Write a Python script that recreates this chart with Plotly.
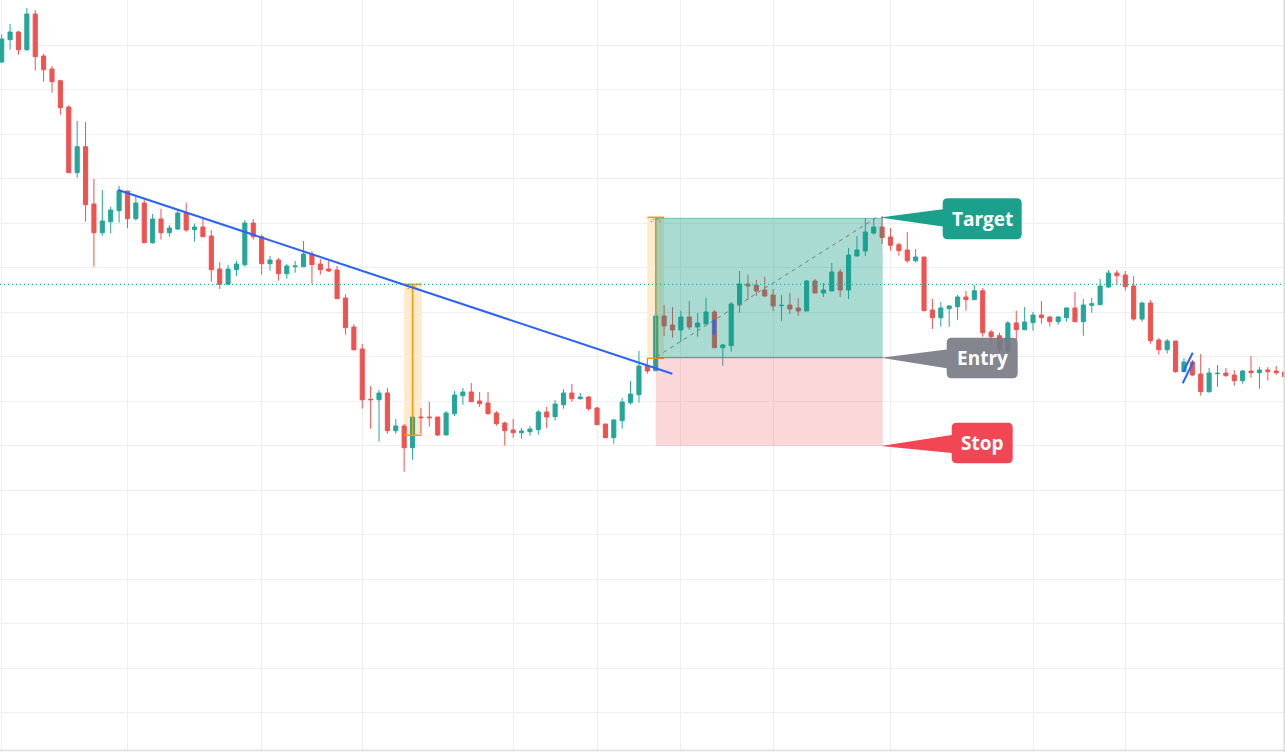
import plotly.graph_objects as go

# ---------------- data (price units) ----------------
open_ = [73.8, 76.03, 76.8, 75.03, 78.6, 74.4, 73.1, 71.93, 69.3, 62.73,
         65.33, 59.6, 56.73, 57.83, 58.93, 60.9, 58.13, 59.7, 55.73, 58.1,
         56.73, 57.1, 58.7, 57.03, 57.3, 56.4, 53.1, 51.57, 53.03, 53.53,
         57.7, 56.33, 53.63, 54.0, 52.63, 53.33, 53.33, 54.6, 53.6, 53.1,
         53.0, 50.2, 47.3, 45.1, 40.07, 40.03, 40.7, 36.93, 37.4, 35.23,
         38.3, 38.3, 38.3, 36.5, 38.63, 40.43, 40.8, 39.9, 39.7, 38.7,
         37.7, 37.0, 36.73, 36.83, 37.03, 38.8, 38.33, 39.53, 40.7, 40.13,
         40.3, 39.2, 37.6, 36.23, 37.93, 39.73, 40.53, 43.4, 42.93, 48.4,
         47.5, 47.0, 48.3, 47.3, 47.6, 48.8, 45.23, 45.43, 49.53, 51.6,
         51.5, 51.0, 50.5, 49.43, 49.5, 49.2, 48.9, 51.9, 50.7, 50.9,
         52.8, 51.0, 54.4, 54.9, 56.7, 57.3, 56.3, 55.53, 55.0, 53.93,
         54.3, 49.0, 48.23, 49.13, 49.33, 50.3, 50.03, 50.93, 46.8, 46.43,
         44.9, 47.7, 47.03, 47.73, 48.5, 48.3, 47.83, 48.23, 49.2, 47.83,
         49.47, 49.53, 51.3, 52.7, 52.5, 51.4, 48.1, 49.7, 46.0, 45.03,
         45.9, 42.83, 43.8, 42.6, 40.83, 42.63, 42.7, 42.5, 41.93, 42.9,
         42.73, 43.0, 42.9, 42.8]
high = [76.57, 77.6, 76.9, 79.2, 79.0, 74.63, 73.4, 72.03, 69.47, 67.9,
        67.8, 62.1, 61.0, 59.33, 61.43, 60.9, 60.33, 60.07, 58.6, 59.13,
        57.5, 59.0, 59.73, 57.63, 58.13, 57.0, 53.8, 53.5, 53.9, 58.0,
        58.1, 56.53, 54.4, 54.2, 53.6, 53.9, 55.9, 54.9, 54.1, 53.93,
        53.4, 50.57, 47.6, 45.6, 41.4, 41.0, 41.2, 38.1, 37.6, 38.3,
        39.2, 39.8, 38.3, 38.9, 40.9, 41.2, 41.7, 40.8, 40.8, 38.9,
        37.83, 38.1, 37.2, 37.4, 39.0, 39.3, 40.0, 41.1, 41.6, 40.7,
        40.4, 39.3, 37.6, 38.1, 40.2, 41.9, 44.9, 44.2, 48.8, 49.5,
        49.3, 48.9, 49.9, 48.7, 50.2, 49.0, 45.6, 49.8, 52.9, 52.5,
        52.0, 52.3, 51.1, 50.5, 50.7, 50.2, 52.0, 52.1, 51.7, 53.7,
        53.1, 55.2, 56.4, 58.2, 58.2, 58.4, 57.2, 55.73, 56.8, 55.1,
        54.3, 50.1, 49.8, 49.5, 50.5, 50.9, 51.5, 51.2, 47.0, 46.73,
        47.9, 48.93, 49.3, 48.8, 49.9, 48.4, 48.4, 49.3, 50.8, 50.1,
        50.2, 52.1, 53.0, 53.0, 52.9, 52.4, 49.83, 50.0, 46.2, 46.1,
        45.9, 44.2, 44.0, 44.6, 43.2, 43.5, 43.2, 43.0, 43.0, 44.4,
        43.3, 43.3, 43.4, 42.9]
low = [73.73, 75.03, 74.53, 74.9, 72.93, 71.83, 70.73, 68.53, 62.73, 62.23,
       57.83, 53.33, 56.43, 56.67, 57.73, 57.2, 57.93, 55.73, 55.63, 56.03,
       56.33, 57.0, 56.83, 55.83, 56.33, 51.83, 51.1, 51.57, 52.4, 53.33,
       56.03, 52.53, 52.93, 51.93, 52.13, 52.73, 53.33, 51.63, 52.53, 52.8,
       50.13, 46.53, 44.93, 39.13, 37.13, 35.83, 36.63, 36.63, 32.83, 34.03,
       36.63, 37.33, 36.4, 36.5, 38.4, 39.53, 39.83, 39.3, 38.53, 37.43,
       35.43, 36.23, 36.13, 36.43, 36.53, 37.2, 37.93, 39.13, 39.83, 40.03,
       38.93, 37.53, 36.23, 35.63, 37.13, 39.53, 39.73, 42.63, 42.93, 46.4,
       46.23, 45.8, 47.0, 46.33, 47.6, 45.23, 43.43, 44.83, 48.73, 50.0,
       50.4, 50.3, 48.9, 47.9, 48.6, 48.4, 48.9, 50.7, 50.3, 50.9,
       50.3, 50.1, 54.4, 54.4, 56.53, 55.6, 54.93, 54.43, 53.73, 53.73,
       48.93, 47.1, 47.33, 47.33, 48.03, 48.93, 50.03, 46.33, 45.5, 44.8,
       44.7, 46.03, 47.03, 46.93, 47.63, 47.33, 47.53, 47.83, 47.83, 46.43,
       48.73, 49.53, 51.2, 51.5, 50.93, 47.93, 47.83, 45.63, 44.53, 44.63,
       42.73, 42.83, 42.4, 40.43, 40.73, 41.33, 42.33, 41.43, 41.63, 42.23,
       41.13, 41.93, 42.5, 42.23]
close = [76.1, 76.8, 75.03, 78.6, 74.33, 73.03, 71.83, 69.23, 62.73, 65.33,
         59.53, 56.73, 57.9, 59.0, 60.93, 58.13, 59.7, 55.73, 58.1, 56.73,
         57.2, 58.7, 57.0, 57.3, 56.33, 53.03, 51.57, 53.1, 53.6, 57.7,
         56.33, 53.63, 54.0, 52.63, 53.4, 53.4, 54.6, 53.53, 53.03, 52.9,
         50.13, 47.23, 45.03, 40.03, 40.03, 40.7, 36.93, 37.4, 35.23, 38.3,
         38.23, 38.23, 36.5, 38.7, 40.5, 40.8, 39.83, 39.63, 38.63, 37.63,
         36.93, 36.73, 36.9, 37.1, 38.8, 38.3, 39.6, 40.7, 40.13, 40.3,
         39.13, 37.53, 36.23, 38.0, 39.8, 40.6, 43.4, 42.9, 48.4, 47.4,
         47.0, 48.3, 47.3, 47.7, 48.8, 45.23, 45.5, 49.6, 51.6, 51.4,
         50.9, 50.4, 49.4, 49.47, 49.1, 48.9, 51.9, 50.7, 51.0, 52.8,
         51.0, 54.5, 55.0, 56.8, 57.3, 56.25, 55.47, 54.93, 53.93, 54.3,
         48.93, 48.23, 49.2, 49.4, 50.3, 50.03, 50.93, 46.73, 46.33, 45.0,
         47.7, 47.03, 47.8, 48.5, 48.23, 47.83, 48.3, 49.2, 47.83, 49.5,
         49.63, 51.4, 52.7, 52.43, 51.33, 48.1, 49.7, 45.93, 45.03, 45.9,
         42.83, 43.8, 42.5, 40.83, 42.7, 42.67, 42.43, 41.93, 42.9, 42.73,
         43.0, 42.83, 42.73, 42.33]
bar_index = list(range(len(open_)))

# session boundaries (vertical grid)
session_starts = [0, 15, 31, 43, 61, 71, 81, 92, 106, 123, 134]

# drawings
trend_x = [13.9, 79.98]
trend_y = [61.0, 42.63]
price_line = 51.57
range1 = dict(x0=48.0, x1=50.1, mid=49.0, top=51.57, bottom=36.47)
range2 = dict(x0=77.0, x1=79.0, mid=78.0, top=58.27, bottom=44.17)
pos_x0, pos_x1 = 78.0, 105.07
target_level = 58.17
entry_level = 44.23
stop_level = 35.4
dash_x = [78.1, 104.5]
dash_y = [44.33, 58.33]
mark1_x = [84.95, 84.95]
mark1_y = [48.0, 46.5]
mark2a_x = [140.92, 142.04]
mark2a_y = [42.83, 44.73]
mark2b_x = [140.85, 142.11]
mark2b_y = [41.67, 43.83]

# ---------------- layout helpers ----------------
W, H = 1285, 752
X0, X1 = -0.2027, 153.05
Y0, Y1 = 4.8, 80.0
XU = W / (X1 - X0)   # px per bar
YU = H / (Y1 - Y0)   # px per price unit

GREEN = "#26A69A"
RED = "#EF5350"
BLUE = "#2962FF"
ORANGE = "#FF9800"

fig = go.Figure()
fig.add_trace(go.Candlestick(
    x=bar_index, open=open_, high=high, low=low, close=close,
    increasing=dict(line=dict(color=GREEN, width=1), fillcolor=GREEN),
    decreasing=dict(line=dict(color=RED, width=1), fillcolor=RED),
    showlegend=False, hoverinfo="skip",
))

shapes = []

def line(x0, y0, x1, y1, color, width=1, dash=None, layer="above"):
    d = dict(type="line", xref="x", yref="y", x0=x0, y0=y0, x1=x1, y1=y1,
             line=dict(color=color, width=width), layer=layer)
    if dash:
        d["line"]["dash"] = dash
    shapes.append(d)

def rect(x0, y0, x1, y1, fill, layer="above"):
    shapes.append(dict(type="rect", xref="x", yref="y", x0=x0, y0=y0, x1=x1, y1=y1,
                       fillcolor=fill, line=dict(width=0), layer=layer))

# price ranges (orange)
for r in (range1, range2):
    rect(r["x0"], r["bottom"], r["x1"], r["top"], "rgba(255,152,0,0.2)", layer="below")
for r in (range1, range2):
    line(r["mid"], r["bottom"], r["mid"], r["top"], ORANGE, 1.5)
    line(r["x0"], r["top"], r["x1"], r["top"], ORANGE, 1.5)
    line(r["x0"], r["bottom"], r["x1"], r["bottom"], ORANGE, 1.5)
    ax = 5 / XU
    ay = 5 / YU
    line(r["mid"] - ax, r["top"] - ay, r["mid"], r["top"], ORANGE, 1.2, dash="2px,1px")
    line(r["mid"] + ax, r["top"] - ay, r["mid"], r["top"], ORANGE, 1.2, dash="2px,1px")

# long position zones
rect(pos_x0, entry_level, pos_x1, target_level, "rgba(8,153,129,0.35)")
rect(pos_x0, stop_level, pos_x1, entry_level, "rgba(242,54,69,0.2)")
line(pos_x0, target_level, pos_x1, target_level, "rgba(8,153,129,0.45)", 1)
line(pos_x0, entry_level, pos_x1, entry_level, "#787B86", 1)
line(dash_x[0], dash_y[0], dash_x[1], dash_y[1], "#787B86", 1, dash="4px,4px")

# horizontal dotted price line
shapes.append(dict(type="line", xref="paper", yref="y", x0=0, x1=1,
                   y0=price_line, y1=price_line,
                   line=dict(color=GREEN, width=1.2, dash="1px,3px"), layer="above"))

# trend line and small marks
line(trend_x[0], trend_y[0], trend_x[1], trend_y[1], BLUE, 2)
line(mark1_x[0], mark1_y[0], mark1_x[1], mark1_y[1], BLUE, 2.5)
line(mark2a_x[0], mark2a_y[0], mark2a_x[1], mark2a_y[1], BLUE, 2)
line(mark2b_x[0], mark2b_y[0], mark2b_x[1], mark2b_y[1], BLUE, 2)

# callout labels
def callout(px0, px1, py0, py1, tip, base, color, text):
    def dx(p):
        return X0 + p / XU
    def dy(p):
        return Y1 - p / YU
    r = 5
    pts = []
    path = (
        f"M {dx(px0+r)},{dy(py0)} L {dx(px1-r)},{dy(py0)} "
        f"Q {dx(px1)},{dy(py0)} {dx(px1)},{dy(py0+r)} "
        f"L {dx(px1)},{dy(py1-r)} Q {dx(px1)},{dy(py1)} {dx(px1-r)},{dy(py1)} "
        f"L {dx(px0+r)},{dy(py1)} Q {dx(px0)},{dy(py1)} {dx(px0)},{dy(py1-r)} "
        f"L {dx(px0)},{dy(base[1])} L {dx(tip[0])},{dy(tip[1])} L {dx(px0)},{dy(base[0])} "
        f"L {dx(px0)},{dy(py0+r)} Q {dx(px0)},{dy(py0)} {dx(px0+r)},{dy(py0)} Z"
    )
    shapes.append(dict(type="path", xref="x", yref="y", path=path,
                       fillcolor=color, line=dict(width=0), opacity=0.92, layer="above"))
    fig.add_annotation(x=dx((px0 + px1) / 2), y=dy((py0 + py1) / 2), xref="x", yref="y",
                       text=f"<b>{text}</b>", showarrow=False,
                       font=dict(family="Open Sans", size=19, color="white"))

callout(942.7, 1021.7, 198.3, 239.3, (880, 217.5), (209.3, 226.5), "#089981", "Target")
callout(946.7, 1017.7, 337.7, 378.3, (881, 357.7), (349.5, 368.3), "#787B86", "Entry")
callout(951.7, 1012.7, 422.7, 463.3, (881, 446), (435, 453), "#F23645", "Stop")

# pane borders
shapes.append(dict(type="line", xref="paper", yref="paper", x0=0, x1=1, y0=0.002, y1=0.002,
                   line=dict(color="#DADCE0", width=1.5), layer="above"))
shapes.append(dict(type="line", xref="paper", yref="paper", x0=0.9993, x1=0.9993, y0=0, y1=1,
                   line=dict(color="#DADCE0", width=1.5), layer="above"))

fig.update_layout(
    width=W, height=H,
    margin=dict(l=0, r=0, t=0, b=0),
    paper_bgcolor="white", plot_bgcolor="white",
    shapes=shapes,
    showlegend=False,
    xaxis=dict(range=[X0, X1], rangeslider=dict(visible=False),
               tickmode="array", tickvals=session_starts, showticklabels=False,
               showgrid=True, gridcolor="#EFEFF2", gridwidth=1,
               zeroline=False, showline=False, ticks=""),
    yaxis=dict(range=[Y0, Y1], tick0=75.5, dtick=4.453, showticklabels=False,
               showgrid=True, gridcolor="#EFEFF2", gridwidth=1,
               zeroline=False, showline=False, ticks=""),
    hovermode=False,
)

fig.write_html("out.html", config={"displayModeBar": False})

# remove the default page margin so the chart sits at the window origin
with open("out.html", "r", encoding="utf-8") as f:
    html = f.read()
html = html.replace("<body>", '<body style="margin:0;padding:0;overflow:hidden">', 1)
with open("out.html", "w", encoding="utf-8") as f:
    f.write(html)
